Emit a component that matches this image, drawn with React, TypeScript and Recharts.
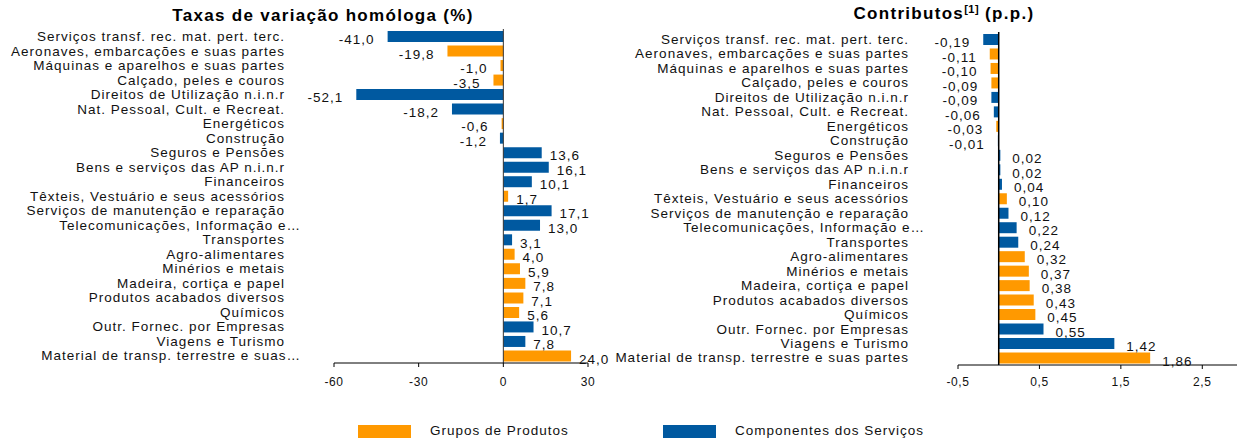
import React from 'react';
import {
  BarChart, Bar, XAxis, YAxis, Cell, LabelList, ReferenceLine,
} from 'recharts';

// categorias (ordem de cima para baixo)
const labelsTaxas = [
  'Serviços transf. rec. mat. pert. terc.',
  'Aeronaves, embarcações e suas partes',
  'Máquinas e aparelhos e suas partes',
  'Calçado, peles e couros',
  'Direitos de Utilização n.i.n.r',
  'Nat. Pessoal, Cult. e Recreat.',
  'Energéticos',
  'Construção',
  'Seguros e Pensões',
  'Bens e serviços das AP n.i.n.r',
  'Financeiros',
  'Têxteis, Vestuário e seus acessórios',
  'Serviços de manutenção e reparação',
  'Telecomunicações, Informação e…',
  'Transportes',
  'Agro-alimentares',
  'Minérios e metais',
  'Madeira, cortiça e papel',
  'Produtos acabados diversos',
  'Químicos',
  'Outr. Fornec. por Empresas',
  'Viagens e Turismo',
  'Material de transp. terrestre e suas…',
];

const labelsContrib = [
  'Serviços transf. rec. mat. pert. terc.',
  'Aeronaves, embarcações e suas partes',
  'Máquinas e aparelhos e suas partes',
  'Calçado, peles e couros',
  'Direitos de Utilização n.i.n.r',
  'Nat. Pessoal, Cult. e Recreat.',
  'Energéticos',
  'Construção',
  'Seguros e Pensões',
  'Bens e serviços das AP n.i.n.r',
  'Financeiros',
  'Têxteis, Vestuário e seus acessórios',
  'Serviços de manutenção e reparação',
  'Telecomunicações, Informação e…',
  'Transportes',
  'Agro-alimentares',
  'Minérios e metais',
  'Madeira, cortiça e papel',
  'Produtos acabados diversos',
  'Químicos',
  'Outr. Fornec. por Empresas',
  'Viagens e Turismo',
  'Material de transp. terrestre e suas partes',
];

// 'P' = Grupos de Produtos, 'S' = Componentes dos Serviços
const grupos = [
  'S', 'P', 'P', 'P', 'S', 'S', 'P', 'S', 'S', 'S', 'S', 'P',
  'S', 'S', 'S', 'P', 'P', 'P', 'P', 'P', 'S', 'S', 'P',
];

const taxas = [
  -41.0, -19.8, -1.0, -3.5, -52.1, -18.2, -0.6, -1.2, 13.6, 16.1, 10.1, 1.7,
  17.1, 13.0, 3.1, 4.0, 5.9, 7.8, 7.1, 5.6, 10.7, 7.8, 24.0,
];

const contributos = [
  -0.19, -0.11, -0.10, -0.09, -0.09, -0.06, -0.03, -0.01, 0.02, 0.02, 0.04, 0.10,
  0.12, 0.22, 0.24, 0.32, 0.37, 0.38, 0.43, 0.45, 0.55, 1.42, 1.86,
];

const ticksTaxas = [-60, -30, 0, 30];
const ticksContrib = [-0.5, 0.5, 1.5, 2.5];

const LARANJA = '#FF9900';
const AZUL = '#0059A0';
const FONT = '"Liberation Sans", Arial, sans-serif';

const dadosTaxas = labelsTaxas.map((name, i) => ({ name, valor: taxas[i], grupo: grupos[i] }));
const dadosContrib = labelsContrib.map((name, i) => ({ name, valor: contributos[i], grupo: grupos[i] }));

const fmt = (v: number, d: number) => v.toFixed(d).replace('.', ',');

const CatTick = (props: any) => {
  const { x, y, payload } = props;
  const v: string = payload.value;
  const trunc = v.endsWith('…');
  return (
    <text
      x={Number(x) - 49 + (trunc ? 16 : 0)}
      y={Number(y)}
      dy="0.35em"
      textAnchor="end"
      fontSize={13.5}
      letterSpacing={1}
      fontFamily={FONT}
      fill="#111"
    >
      {v}
    </text>
  );
};

const valueLabel = (digits: number, gapNeg: number, gapPos: number) => (props: any) => {
  const x = Number(props.x), y = Number(props.y);
  const w = Number(props.width), h = Number(props.height);
  const value = Number(props.value);
  const left = Math.min(x, x + w);
  const right = Math.max(x, x + w);
  const neg = value < 0;
  return (
    <text
      x={neg ? left - gapNeg : right + gapPos}
      y={y + h / 2 + 3}
      dy="0.35em"
      textAnchor={neg ? 'end' : 'start'}
      fontSize={13.5}
      letterSpacing={1}
      fontFamily={FONT}
      fill="#111"
    >
      {fmt(value, digits)}
    </text>
  );
};

const xTick = { fontSize: 12, fill: '#111', fontFamily: FONT, letterSpacing: 0.6 };

const titleStyle: React.CSSProperties = {
  position: 'absolute',
  fontFamily: FONT,
  fontWeight: 'bold',
  fontSize: '17px',
  letterSpacing: '1.3px',
  lineHeight: '20px',
  textAlign: 'center',
  color: '#000',
  whiteSpace: 'nowrap',
};

const legendText: React.CSSProperties = {
  position: 'absolute',
  fontFamily: FONT,
  fontSize: '13.5px',
  letterSpacing: '1px',
  lineHeight: '14px',
  color: '#111',
  whiteSpace: 'nowrap',
};

export default function App() {
  return (
    <div style={{ position: 'absolute', left: 0, top: 0, width: 1237, height: 439, overflow: 'hidden', background: '#fff' }}>
      <div style={{ ...titleStyle, left: 123, width: 400, top: 6 }}>Taxas de variação homóloga (%)</div>
      <div style={{ ...titleStyle, left: 744, width: 400, top: 4 }}>
        Contributos<sup style={{ fontSize: '11px', letterSpacing: '0.5px', verticalAlign: '6px', lineHeight: 0 }}>[1]</sup> (p.p.)
      </div>

      <div style={{ position: 'absolute', left: 0, top: 0 }}>
        <BarChart
          width={630}
          height={400}
          layout="vertical"
          data={dadosTaxas}
          margin={{ top: 29, right: 42, bottom: 0, left: 0 }}
          barCategoryGap={3}
        >
          <XAxis
            type="number"
            domain={[-60, 30]}
            ticks={ticksTaxas}
            height={37}
            axisLine={{ stroke: '#000' }}
            tickLine={{ stroke: '#000' }}
            tickSize={4}
            tickMargin={10}
            tick={xTick}
            tickFormatter={(v: number) => String(v)}
          />
          <YAxis
            type="category"
            dataKey="name"
            width={334}
            axisLine={false}
            tickLine={false}
            tickSize={0}
            tickMargin={0}
            interval={0}
            tick={<CatTick />}
          />
          <ReferenceLine x={0} stroke="#333" strokeWidth={1} />
          <Bar dataKey="valor" barSize={11} isAnimationActive={false}>
            {dadosTaxas.map((d, i) => (
              <Cell key={i} fill={d.grupo === 'P' ? LARANJA : AZUL} />
            ))}
            <LabelList dataKey="valor" content={valueLabel(1, 13, 8)} />
          </Bar>
        </BarChart>
      </div>

      <div style={{ position: 'absolute', left: 610, top: 0 }}>
        <BarChart
          width={633}
          height={400}
          layout="vertical"
          data={dadosContrib}
          margin={{ top: 32, right: 0, bottom: 0, left: 0 }}
          barCategoryGap={3}
        >
          <XAxis
            type="number"
            domain={[-0.5, 3]}
            ticks={ticksContrib}
            height={35}
            axisLine={{ stroke: '#000' }}
            tickLine={{ stroke: '#000' }}
            tickSize={4}
            tickMargin={8}
            tick={xTick}
            tickFormatter={(v: number) => fmt(v, 1)}
          />
          <YAxis
            type="category"
            dataKey="name"
            width={348}
            axisLine={false}
            tickLine={false}
            tickSize={0}
            tickMargin={0}
            interval={0}
            tick={<CatTick />}
          />
          <ReferenceLine x={0} stroke="#000" strokeWidth={1.5} />
          <Bar dataKey="valor" barSize={11} isAnimationActive={false}>
            {dadosContrib.map((d, i) => (
              <Cell key={i} fill={d.grupo === 'P' ? LARANJA : AZUL} />
            ))}
            <LabelList dataKey="valor" content={valueLabel(2, 13, 12)} />
          </Bar>
        </BarChart>
      </div>

      <div style={{ position: 'absolute', left: 358, top: 425, width: 53, height: 13, background: LARANJA }} />
      <div style={{ ...legendText, left: 430, top: 424 }}>Grupos de Produtos</div>
      <div style={{ position: 'absolute', left: 663, top: 425, width: 53, height: 13, background: AZUL }} />
      <div style={{ ...legendText, left: 735, top: 424 }}>Componentes dos Serviços</div>
    </div>
  );
}
